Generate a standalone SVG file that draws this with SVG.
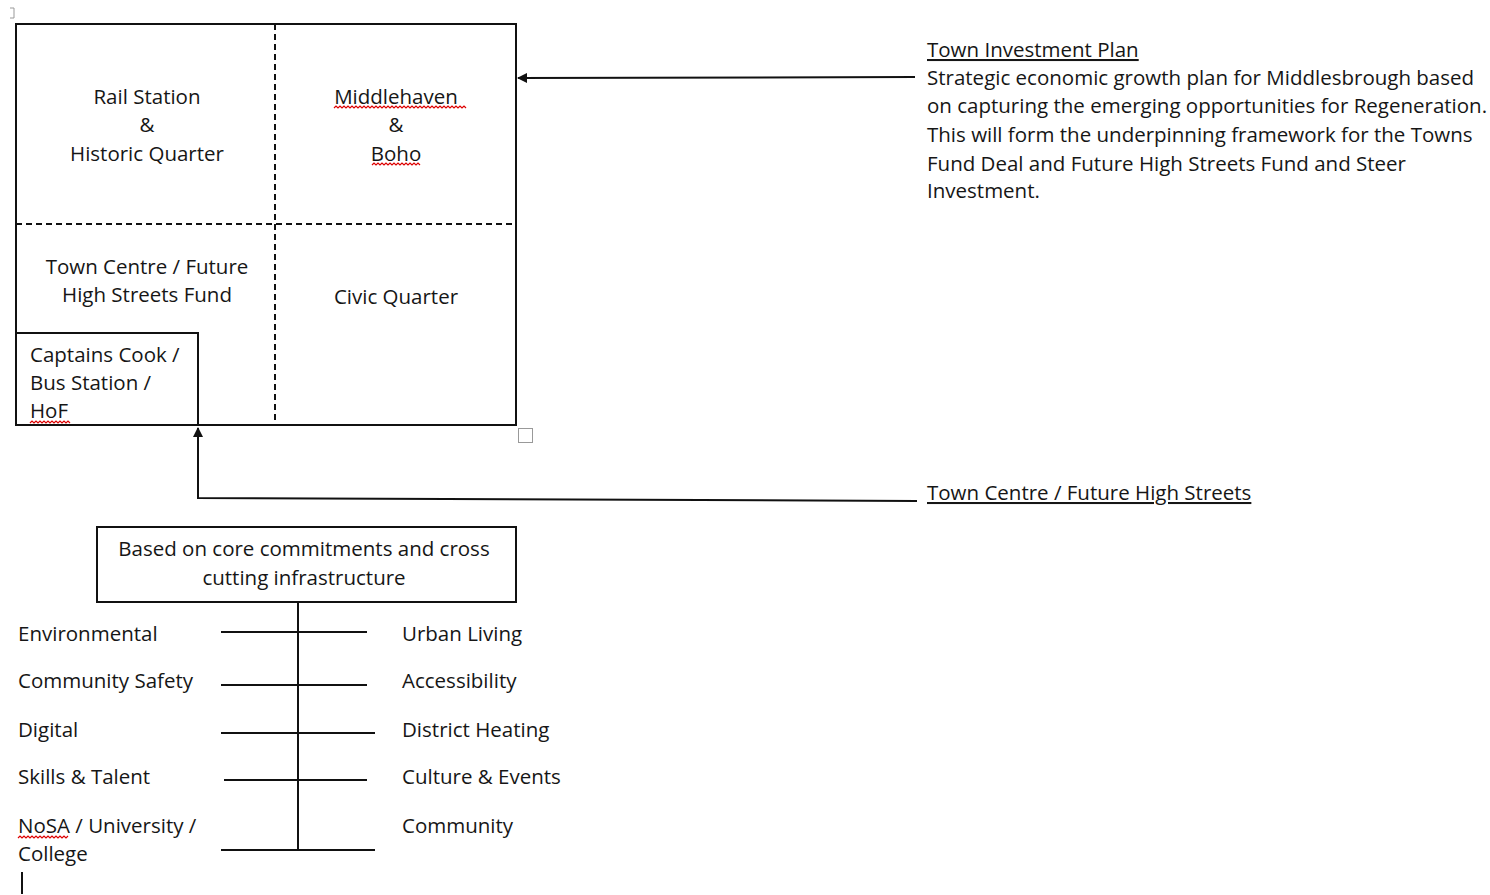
<svg xmlns="http://www.w3.org/2000/svg" width="1490" height="895" viewBox="0 0 1490 895">
<style>
text{font-family:"Open Sans",Lato,"Liberation Sans",sans-serif;font-size:20.5px;fill:#161616}
.c{text-anchor:middle}
.box{fill:none;stroke:#111;stroke-width:2}
.dash{fill:none;stroke:#111;stroke-width:2;stroke-dasharray:6,4}
.ln{fill:none;stroke:#111;stroke-width:2}
.sq{fill:none;stroke:#d00;stroke-width:1.2}
.u{text-decoration:underline}
</style>
<defs>
<marker id="ah" markerWidth="10" markerHeight="10" refX="9" refY="5" orient="auto" markerUnits="userSpaceOnUse">
<path d="M0,0 L10,5 L0,10 z" fill="#111"/>
</marker>
</defs>
<path d="M10,8 H14 V18 H10" fill="none" stroke="#999" stroke-width="1"/>
<g id="main-box">
<rect class="box" x="16" y="24" width="500" height="401"/>
<line class="dash" x1="275" y1="24" x2="275" y2="425"/>
<line class="dash" x1="16" y1="224" x2="516" y2="224"/>
</g>
<g id="rail-station">
<text class="c" x="147" y="104">Rail Station</text>
<text class="c" x="147" y="132">&amp;</text>
<text class="c" x="147" y="161">Historic Quarter</text>
</g>
<g id="middlehaven">
<text class="c" x="396" y="104">Middlehaven</text>
<text class="c" x="396" y="132">&amp;</text>
<text class="c" x="396" y="161">Boho</text>
<path class="sq" d="M334,108 l2,-2 l2,2 l2,-2 l2,2 l2,-2 l2,2 l2,-2 l2,2 l2,-2 l2,2 l2,-2 l2,2 l2,-2 l2,2 l2,-2 l2,2 l2,-2 l2,2 l2,-2 l2,2 l2,-2 l2,2 l2,-2 l2,2 l2,-2 l2,2 l2,-2 l2,2 l2,-2 l2,2 l2,-2 l2,2 l2,-2 l2,2 l2,-2 l2,2 l2,-2 l2,2 l2,-2 l2,2 l2,-2 l2,2 l2,-2 l2,2 l2,-2 l2,2 l2,-2 l2,2 l2,-2 l2,2 l2,-2 l2,2 l2,-2 l2,2 l2,-2 l2,2 l2,-2 l2,2 l2,-2 l2,2 l2,-2 l2,2 l2,-2 l2,2 l2,-2 l2,2"/>
<path class="sq" d="M372,165 l2,-2 l2,2 l2,-2 l2,2 l2,-2 l2,2 l2,-2 l2,2 l2,-2 l2,2 l2,-2 l2,2 l2,-2 l2,2 l2,-2 l2,2 l2,-2 l2,2 l2,-2 l2,2 l2,-2 l2,2 l2,-2 l2,2"/>
</g>
<g id="town-centre">
<text class="c" x="147" y="274">Town Centre / Future</text>
<text class="c" x="147" y="302">High Streets Fund</text>
</g>
<g id="civic-quarter">
<text class="c" x="396" y="304">Civic Quarter</text>
</g>
<g id="captains-cook">
<rect class="box" x="16" y="333" width="182" height="92"/>
<text x="30" y="362">Captains Cook /</text>
<text x="30" y="390">Bus Station /</text>
<text x="30" y="418">HoF</text>
<path class="sq" d="M30,423 l2,-2 l2,2 l2,-2 l2,2 l2,-2 l2,2 l2,-2 l2,2 l2,-2 l2,2 l2,-2 l2,2 l2,-2 l2,2 l2,-2 l2,2 l2,-2 l2,2 l2,-2 l2,2"/>
</g>
<rect x="518.5" y="428.5" width="14" height="14" fill="none" stroke="#999" stroke-width="1"/>
<g id="town-investment-plan">
<text class="u" x="927" y="57">Town Investment Plan</text>
<text x="927" y="85">Strategic economic growth plan for Middlesbrough based</text>
<text x="927" y="113">on capturing the emerging opportunities for Regeneration.</text>
<text x="927" y="142">This will form the underpinning framework for the Towns</text>
<text x="927" y="171">Fund Deal and Future High Streets Fund and Steer</text>
<text x="927" y="198">Investment.</text>
</g>
<g id="future-high-streets">
<text class="u" x="927" y="500">Town Centre / Future High Streets</text>
</g>
<g id="core-box">
<rect class="box" x="97" y="527" width="419" height="75"/>
<text class="c" x="304" y="556">Based on core commitments and cross</text>
<text class="c" x="304" y="585">cutting infrastructure</text>
</g>
<g id="left-labels">
<text x="18" y="641">Environmental</text>
<text x="18" y="688">Community Safety</text>
<text x="18" y="737">Digital</text>
<text x="18" y="784">Skills &amp; Talent</text>
<text x="18" y="833">NoSA / University /</text>
<text x="18" y="861">College</text>
<path class="sq" d="M18,838 l2,-2 l2,2 l2,-2 l2,2 l2,-2 l2,2 l2,-2 l2,2 l2,-2 l2,2 l2,-2 l2,2 l2,-2 l2,2 l2,-2 l2,2 l2,-2 l2,2 l2,-2 l2,2 l2,-2 l2,2 l2,-2 l2,2 l2,-2"/>
</g>
<g id="right-labels">
<text x="402" y="641">Urban Living</text>
<text x="402" y="688">Accessibility</text>
<text x="402" y="737">District Heating</text>
<text x="402" y="784">Culture &amp; Events</text>
<text x="402" y="833">Community</text>
</g>
<g id="connectors">
<line class="ln" x1="915" y1="77" x2="518" y2="78" marker-end="url(#ah)"/>
<polyline class="ln" points="917,501 198,498 198,428" marker-end="url(#ah)"/>
<line class="ln" x1="298" y1="602" x2="298" y2="850"/>
<line class="ln" x1="221" y1="632" x2="367" y2="632"/>
<line class="ln" x1="221" y1="685" x2="367" y2="685"/>
<line class="ln" x1="221" y1="733" x2="375" y2="733"/>
<line class="ln" x1="224" y1="780" x2="367" y2="780"/>
<line class="ln" x1="221" y1="850" x2="375" y2="850"/>
</g>
<line x1="22" y1="872" x2="22" y2="894" stroke="#111" stroke-width="2"/>
</svg>
